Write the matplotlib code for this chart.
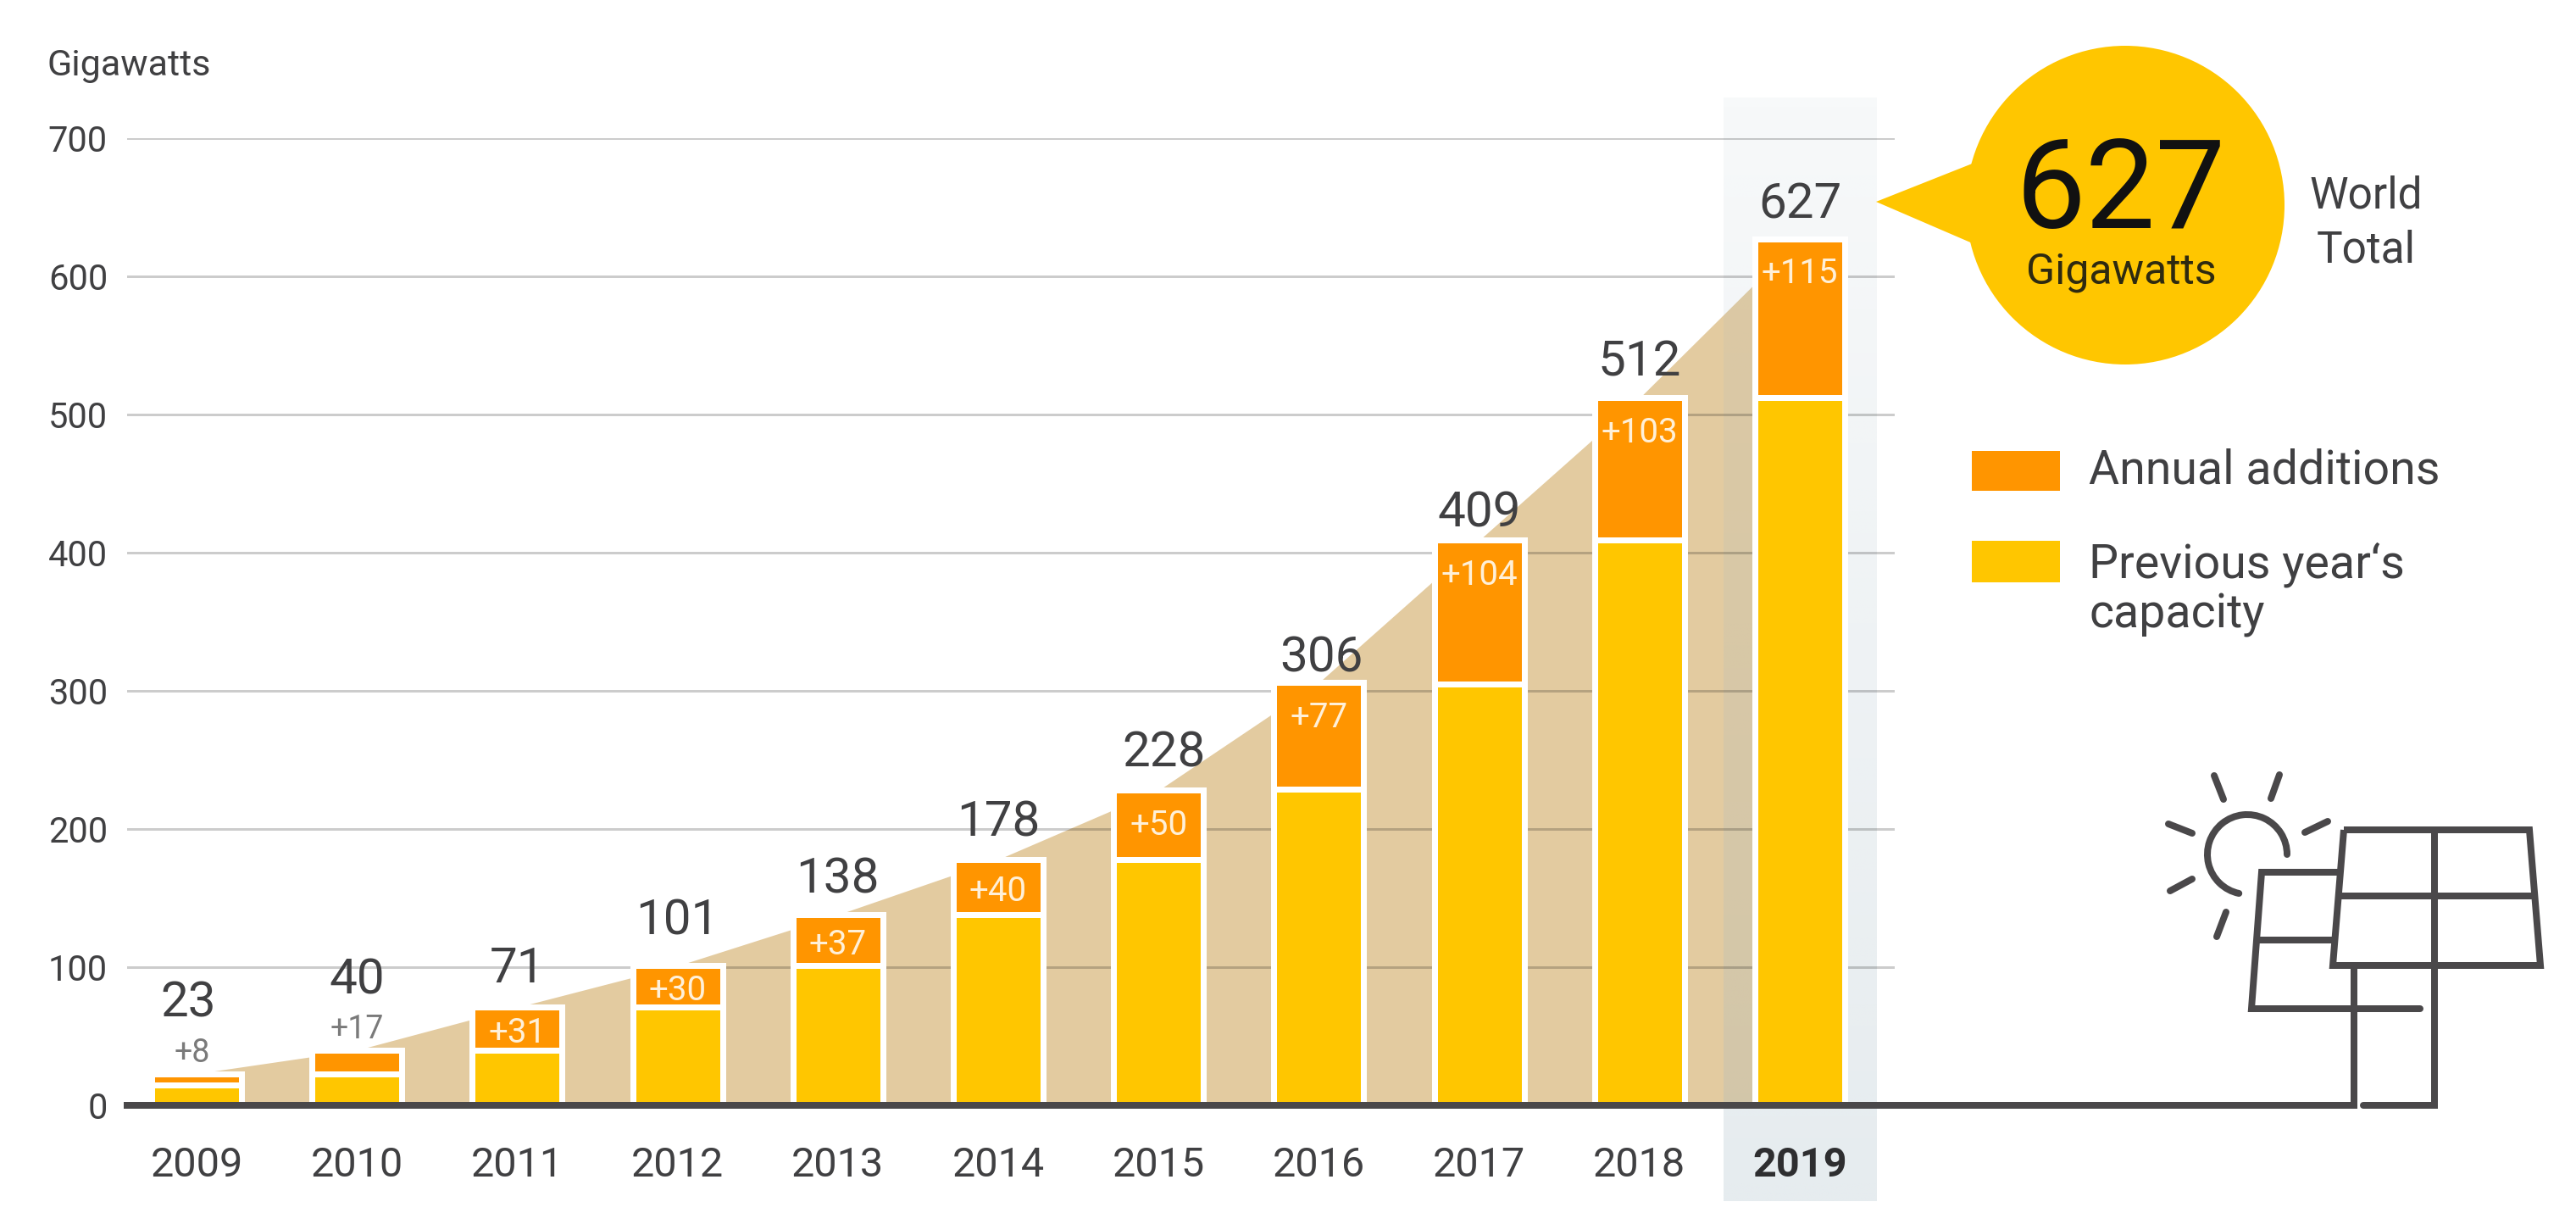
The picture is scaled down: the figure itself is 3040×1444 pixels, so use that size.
import numpy as np
import matplotlib
matplotlib.use("Agg")
import matplotlib.pyplot as plt
from matplotlib.patches import Circle, Polygon, Rectangle, Arc

plt.rcParams['font.family'] = ['Roboto', 'DejaVu Sans']

years = [2009, 2010, 2011, 2012, 2013, 2014, 2015, 2016, 2017, 2018, 2019]
previous = [15, 23, 40, 71, 101, 138, 178, 229, 305, 409, 512]
additions = [8, 17, 31, 30, 37, 40, 50, 77, 104, 103, 115]
totals = [23, 40, 71, 101, 138, 178, 228, 306, 409, 512, 627]
y_ticks = [0, 100, 200, 300, 400, 500, 600, 700]

# label placement (pixels above the top of the stack)
total_label_dy = [83, 82, 45, 52, 41, 43, 43, 28, 31, 41, 40]
total_label_dx = [-10, 0, 0, 0, 0, 0, 6, 3, 0, 0, 0]

YELLOW = '#FFC600'
ORANGE = '#FF9500'
TAN = '#E3CBA0'
DARK = '#4A484A'
TEXT = '#404042'

W, H, DPI = 3040, 1444, 100
PX = 72 / DPI
fig = plt.figure(figsize=(W / DPI, H / DPI), dpi=DPI, facecolor='white')

L, R, T, B = 150, 2236, 163, 1304
ax = fig.add_axes([L / W, 1 - B / H, (R - L) / W, (B - T) / H])
px_per_year = 189.2
x0 = 2009 + (L - 232) / px_per_year
x1 = 2009 + (R - 232) / px_per_year
px_per_val = (B - T) / 700

# tan area behind the bars
ax.fill_between(years, 0, totals, color=TAN, lw=0, zorder=0.2)

# highlight band with vertical fade
band = np.zeros((64, 1, 4))
band[..., :3] = matplotlib.colors.to_rgb('#A6BBC6')
band[..., 3] = np.linspace(0.09, 0.28, 64)[:, None]
ax.imshow(band, extent=(2019 - 0.476, 2019 + 0.476, (B - 1417) / px_per_val, (B - 115) / px_per_val),
          aspect='auto', origin='upper', zorder=0.3, clip_on=False, interpolation='bilinear')

# bars
bw = 106 / px_per_year
ax.bar(years, previous, width=bw, color=YELLOW, edgecolor='white', linewidth=7 * PX, zorder=2)
ax.bar(years, additions, bottom=previous, width=bw, color=ORANGE, edgecolor='white',
       linewidth=7 * PX, zorder=2, clip_on=False)

ax.set_xlim(x0, x1)
ax.set_ylim(0, 700)

# axes
ax.set_axisbelow(True)
ax.yaxis.grid(True, color='black', alpha=0.2, lw=3 * PX)
ax.xaxis.grid(False)
ax.set_facecolor('none')
for s in ('top', 'left', 'right'):
    ax.spines[s].set_visible(False)
ax.spines['bottom'].set_color(DARK)
ax.spines['bottom'].set_linewidth(8 * PX)
ax.spines['bottom'].set_zorder(3)
ax.set_yticks(y_ticks)
ax.set_xticks(years)
ax.set_xticklabels([str(y) for y in years])
ax.tick_params(axis='y', length=0, pad=23 * PX, labelsize=30, labelcolor=TEXT)
ax.tick_params(axis='x', length=0, pad=48 * PX, labelsize=35, labelcolor=TEXT)
ax.get_xticklabels()[-1].set_fontweight('bold')
ax.get_xticklabels()[-1].set_color('#2E2E30')

# labels on the bars
for i, y in enumerate(years):
    ax.annotate(str(totals[i]), (y, totals[i]), xytext=(total_label_dx[i] * PX, total_label_dy[i] * PX),
                textcoords='offset points', ha='center', va='center', fontsize=42, color=TEXT, zorder=5)
    txt = f'+{additions[i]}'
    if i < 2:
        ax.annotate(txt, (y, totals[i]), xytext=(-5 * PX if i == 0 else 0, 24 * PX), textcoords='offset points',
                    ha='center', va='center', fontsize=27, color='#7A7A7A', zorder=5)
    else:
        drop = min(41, additions[i] * px_per_val / 2 + 5)
        ax.annotate(txt, (y, totals[i]), xytext=(0, -drop * PX), textcoords='offset points',
                    ha='center', va='center', fontsize=29, color='#FFF0D8', zorder=5)

# overlay in figure pixels for callout, legend and icon
ov = fig.add_axes([0, 0, 1, 1], facecolor='none')
ov.set_xlim(0, W)
ov.set_ylim(H, 0)
ov.axis('off')

ov.text(55, 78, 'Gigawatts', fontsize=31, color=TEXT, ha='left', va='center')

# callout
ov.add_patch(Circle((2508, 242), 188, fc=YELLOW, ec='none'))
ov.add_patch(Polygon([(2214, 238), (2330, 192), (2330, 288)], closed=True, fc=YELLOW, ec='none'))
ov.text(2503, 229, '627', fontsize=106, color='#111111', ha='center', va='center')
ov.text(2503, 321, 'Gigawatts', fontsize=36, color='#2E2A10', ha='center', va='center')
ov.text(2792, 232, 'World', fontsize=37, color=TEXT, ha='center', va='center')
ov.text(2792, 295, 'Total', fontsize=37, color=TEXT, ha='center', va='center')

# legend
ov.add_patch(Rectangle((2327, 532), 104, 47, fc=ORANGE, ec='none'))
ov.add_patch(Rectangle((2327, 638), 104, 49, fc=YELLOW, ec='none'))
ov.text(2465, 555, 'Annual additions', fontsize=40, color=TEXT, ha='left', va='center')
ov.text(2465, 666, 'Previous year\u2018s', fontsize=40, color=TEXT, ha='left', va='center')
ov.text(2465, 726, 'capacity', fontsize=40, color=TEXT, ha='left', va='center')

# ground line continuing to the solar panel, and the icon
lw = 8 * PX
def seg(pts, cap='butt', join='miter'):
    xs, ys = zip(*pts)
    ov.plot(xs, ys, color=DARK, lw=lw, solid_capstyle=cap, solid_joinstyle=join, zorder=4)

ov.plot([R, 2778], [1304, 1304], color=DARK, lw=8 * PX, solid_capstyle='butt', zorder=4)
seg([(2778, 1308), (2778, 1139)])
seg([(2789, 1304), (2873, 1304), (2873, 979)], cap='round')
seg([(2766, 979), (2985, 979), (2998, 1139), (2753, 1139), (2766, 979)])
seg([(2760, 1057), (2990, 1057)])
seg([(2761, 1029), (2669, 1029), (2657, 1190), (2856, 1190)], cap='round')
seg([(2666, 1109), (2754, 1109)])
ov.add_patch(Arc((2652, 1008), 94, 94, theta1=102, theta2=360, color=DARK, lw=lw, capstyle='round', zorder=4))
rays = [((2613, 915), (2624, 943)), ((2690, 914), (2680, 942)), ((2747, 969), (2720, 982)),
        ((2559, 972), (2587, 983)), ((2587, 1037), (2561, 1051)), ((2627, 1076), (2616, 1105))]
for a, b in rays:
    seg([a, b], cap='round')

fig.savefig('out.png', dpi=DPI, facecolor='white')
